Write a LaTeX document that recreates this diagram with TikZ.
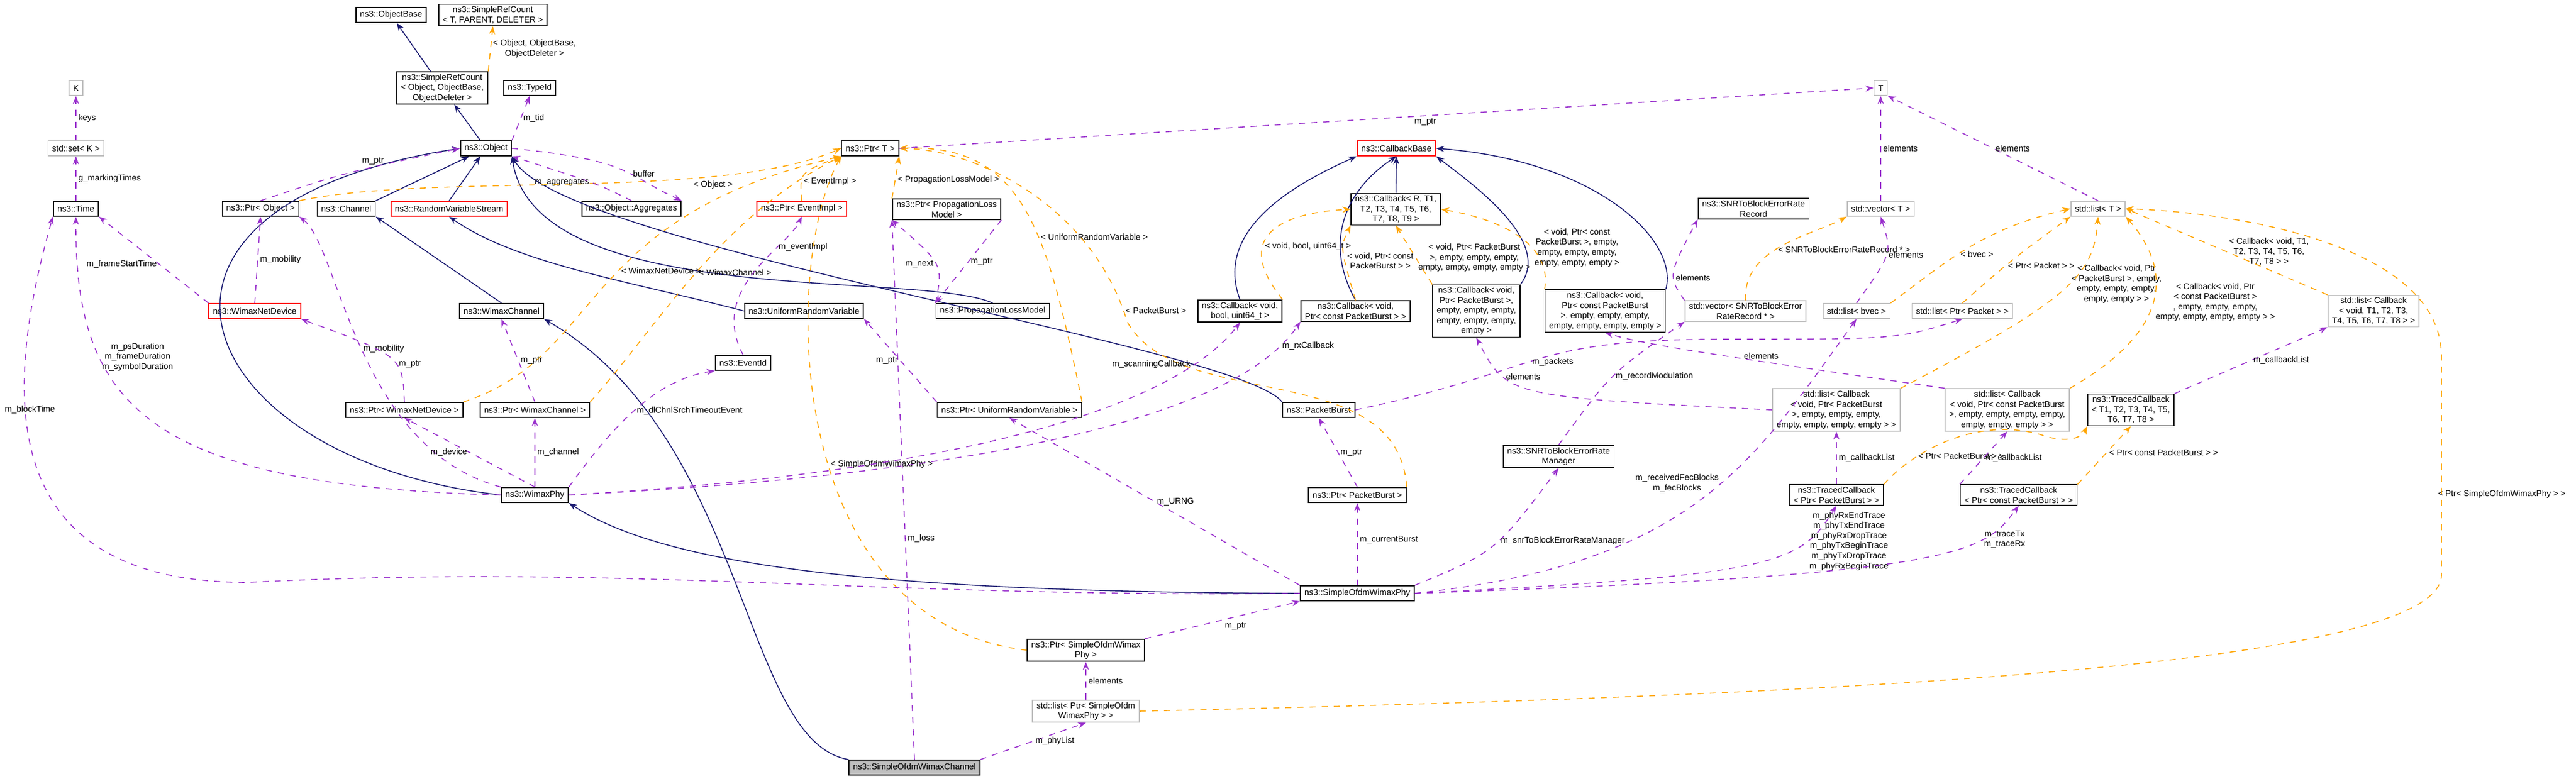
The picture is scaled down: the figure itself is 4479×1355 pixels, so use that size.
\documentclass[tikz,border=0pt]{standalone}
\usepackage{fontspec}
\setmainfont{Liberation Sans}
\usetikzlibrary{arrows.meta}

\definecolor{inhcol}{HTML}{191970}
\definecolor{usecol}{HTML}{9A32CD}
\definecolor{tplcol}{HTML}{FFA500}

\tikzset{
  cls/.style={draw=black, line width=0.5pt, fill=white, inner xsep=2pt, inner ysep=1pt,
    minimum height=0.26cm, align=center, font=\fontsize{4.2}{5}\selectfont},
  clsred/.style={cls, draw=red},
  clsgray/.style={cls, draw=black!25},
  clsme/.style={cls, fill=black!25},
  inh/.style={draw=inhcol, line width=0.45pt, -{Stealth[length=4pt,width=3pt]}},
  use/.style={draw=usecol, line width=0.45pt, dashed, -{Stealth[length=4pt,width=3pt]}},
  tpl/.style={draw=tplcol, line width=0.45pt, dashed, -{Stealth[length=4pt,width=3pt]}},
  lbl/.style={font=\fontsize{4.2}{5}\selectfont, align=center, inner sep=1pt, fill=none}
}

\begin{document}
\begin{tikzpicture}[x=0.01cm, y=-0.01cm]
  \useasboundingbox (0,0) rectangle (4479,1355);

  % classes
  \node[cls] (objbase) at (680,26) {ns3::ObjectBase};
  \node[cls] (srcT) at (857,26) {ns3::SimpleRefCount\\< T, PARENT, DELETER >};
  \node[cls] (srcobj) at (769,153) {ns3::SimpleRefCount\\< Object, ObjectBase,\\ObjectDeleter >};
  \node[cls] (typeid) at (921,153) {ns3::TypeId};
  \node[clsgray] (key) at (132,153) {K};
  \node[clsgray] (setk) at (132,258) {std::set< K >};
  \node[cls] (object) at (845,258) {ns3::Object};
  \node[cls] (ptrT) at (1513,258) {ns3::Ptr< T >};
  \node[clsred] (cbbase) at (2428,258) {ns3::CallbackBase};
  \node[clsgray] (tT) at (3270,153) {T};

  \node[cls] (time) at (132,363) {ns3::Time};
  \node[cls] (ptrobj) at (453,363) {ns3::Ptr< Object >};
  \node[cls] (channel) at (602,363) {ns3::Channel};
  \node[clsred] (rvs) at (781,363) {ns3::RandomVariableStream};
  \node[cls] (aggr) at (1098,363) {ns3::Object::Aggregates};
  \node[clsred] (ptrevent) at (1394,363) {ns3::Ptr< EventImpl >};
  \node[cls] (ptrplm) at (1646,364) {ns3::Ptr< PropagationLoss\\Model >};
  \node[cls] (cbR) at (2427,364) {ns3::Callback< R, T1,\\T2, T3, T4, T5, T6,\\T7, T8, T9 >};
  \node[cls] (snrrec) at (3049,363) {ns3::SNRToBlockErrorRate\\Record};
  \node[clsgray] (vecT) at (3270,363) {std::vector< T >};
  \node[clsgray] (listT) at (3648,363) {std::list< T >};

  \node[clsred] (wnd) at (443,541) {ns3::WimaxNetDevice};
  \node[cls] (wch) at (872,541) {ns3::WimaxChannel};
  \node[cls] (urv) at (1398,541) {ns3::UniformRandomVariable};
  \node[cls] (plm) at (1726,541) {ns3::PropagationLossModel};
  \node[cls] (cbbool) at (2156,541) {ns3::Callback< void,\\bool, uint64\_t >};
  \node[cls] (cbcpb) at (2357,541) {ns3::Callback< void,\\Ptr< const PacketBurst > >};
  \node[cls] (cbpbe) at (2567,541) {ns3::Callback< void,\\Ptr< PacketBurst >,\\empty, empty, empty,\\empty, empty, empty,\\empty >};
  \node[cls] (cbcpbe) at (2791,541) {ns3::Callback< void,\\Ptr< const PacketBurst\\>, empty, empty, empty,\\empty, empty, empty, empty >};
  \node[clsgray] (vecsnr) at (3035,541) {std::vector< SNRToBlockError\\RateRecord * >};
  \node[clsgray] (listbvec) at (3228,541) {std::list< bvec >};
  \node[clsgray] (listpkt) at (3412,541) {std::list< Ptr< Packet > >};
  \node[clsgray] (listcbT) at (4127,541) {std::list< Callback\\< void, T1, T2, T3,\\T4, T5, T6, T7, T8 > >};

  \node[cls] (eventid) at (1292,631) {ns3::EventId};
  \node[cls] (ptrwnd) at (703,713) {ns3::Ptr< WimaxNetDevice >};
  \node[cls] (ptrwch) at (930,713) {ns3::Ptr< WimaxChannel >};
  \node[cls] (ptrurv) at (1755,713) {ns3::Ptr< UniformRandomVariable >};
  \node[cls] (pb) at (2293,713) {ns3::PacketBurst};
  \node[clsgray] (listcbpb) at (3193,713) {std::list< Callback\\< void, Ptr< PacketBurst\\>, empty, empty, empty,\\empty, empty, empty, empty > >};
  \node[clsgray] (listcbcpb) at (3490,713) {std::list< Callback\\< void, Ptr< const PacketBurst\\>, empty, empty, empty, empty,\\empty, empty, empty > >};
  \node[cls] (tcT) at (3705,713) {ns3::TracedCallback\\< T1, T2, T3, T4, T5,\\T6, T7, T8 >};

  \node[cls] (snrmgr) at (2710,794) {ns3::SNRToBlockErrorRate\\Manager};
  \node[cls] (wphy) at (930,861) {ns3::WimaxPhy};
  \node[cls] (ptrpb) at (2360,861) {ns3::Ptr< PacketBurst >};
  \node[cls] (tcpb) at (3193,861) {ns3::TracedCallback\\< Ptr< PacketBurst > >};
  \node[cls] (tccpb) at (3510,861) {ns3::TracedCallback\\< Ptr< const PacketBurst > >};

  \node[cls] (sowp) at (2360,1032) {ns3::SimpleOfdmWimaxPhy};
  \node[cls] (ptrsowp) at (1888,1131) {ns3::Ptr< SimpleOfdmWimax\\Phy >};
  \node[clsgray] (listsowp) at (1888,1237) {std::list< Ptr< SimpleOfdm\\WimaxPhy > >};
  \node[clsme] (sowc) at (1590,1335) {ns3::SimpleOfdmWimaxChannel};

  % inheritance
  \draw[inh] (srcobj) -- (objbase);
  \draw[inh] (object) -- (srcobj);
  \draw[inh] (channel.north east) -- (object);
  \draw[inh] (rvs.north) -- (object);
  \draw[inh] (wch.north) -- (channel.south east);
  \draw[inh] (urv.west) .. controls (1100,490) and (900,460) .. (rvs.south);
  \draw[inh] (wphy.west) .. controls (330,800) and (150,360) .. (object.west);
  \draw[inh] (plm.north) .. controls (1600,470) and (930,540) .. (object.south east);
  \draw[inh] (pb.north west) .. controls (2150,600) and (980,430) .. (object.south east);
  \draw[inh] (sowc.north west) .. controls (1290,1290) and (1300,760) .. (wch.south east);
  \draw[inh] (sowp.west) .. controls (1500,1030) and (1150,980) .. (wphy.south east);
  \draw[inh] (cbR) -- (cbbase);
  \draw[inh] (cbbool.north) .. controls (2110,400) and (2250,320) .. (cbbase.south west);
  \draw[inh] (cbcpb.north) .. controls (2300,420) and (2340,330) .. (cbbase.south);
  \draw[inh] (cbpbe.north east) .. controls (2700,420) and (2560,320) .. (cbbase.south east);
  \draw[inh] (cbcpbe.north east) .. controls (2920,420) and (2780,280) .. (cbbase.east);

  % templates
  \draw[tpl] (srcobj.north east) -- node[lbl, right, pos=0.5] {< Object, ObjectBase,\\ObjectDeleter >} (srcT.south);
  \draw[tpl] (ptrobj.north east) .. controls (750,300) and (1250,350) .. (ptrT.west);
  \node[lbl] (lobj) at (1240,322) {< Object >};
  \draw[tpl] (ptrevent.north) .. controls (1390,300) .. node[lbl, pos=0.3, right] {< EventImpl >} (ptrT.south west);
  \draw[tpl] (ptrplm.north west) -- node[lbl, right, pos=0.45] {< PropagationLossModel >} (ptrT.south east);
  \draw[tpl] (ptrwnd.north east) .. controls (1050,620) and (1000,380) .. node[lbl, pos=0.55, right] {< WimaxNetDevice >} (ptrT.south west);
  \draw[tpl] (ptrwch.north east) .. controls (1150,560) and (1250,380) .. node[lbl, pos=0.5, right] {< WimaxChannel >} (ptrT.south west);
  \draw[tpl] (ptrurv.north east) .. controls (1820,400) and (1780,250) .. node[lbl, pos=0.4, right] {< UniformRandomVariable >} (ptrT.east);
  \draw[tpl] (ptrpb.north east) .. controls (2430,620) and (2050,720) .. (1960,560) .. controls (1900,360) and (1700,260) .. (ptrT.east);
  \node[lbl] (lpb) at (2010,540) {< PacketBurst >};
  \draw[tpl] (ptrsowp.west) .. controls (1360,1080) and (1360,460) .. node[lbl, pos=0.45, right] {< SimpleOfdmWimaxPhy >} (ptrT.south west);
  \draw[tpl] (cbbool.north east) .. controls (2140,410) and (2230,370) .. node[lbl, pos=0.35, right] {< void, bool, uint64\_t >} (cbR.west);
  \draw[tpl] (cbcpb.north) .. controls (2330,430) .. node[lbl, pos=0.35, right] {< void, Ptr< const\\PacketBurst > >} (cbR.south west);
  \draw[tpl] (cbpbe.north west) -- node[lbl, pos=0.45, right] {< void, Ptr< PacketBurst\\>, empty, empty, empty,\\empty, empty, empty, empty >} (cbR.south);
  \draw[tpl] (cbcpbe.north west) .. controls (2700,420) and (2600,380) .. node[lbl, pos=0.35, right] {< void, Ptr< const\\PacketBurst >, empty,\\empty, empty, empty,\\empty, empty, empty >} (cbR.east);
  \draw[tpl] (vecsnr.north) .. controls (3030,430) and (3150,410) .. node[lbl, pos=0.45, right] {< SNRToBlockErrorRateRecord * >} (vecT.south west);
  \draw[tpl] (listbvec.north east) .. controls (3380,460) and (3440,400) .. node[lbl, pos=0.45, right] {< bvec >} (listT.west);
  \draw[tpl] (listpkt.north) .. controls (3500,450) .. node[lbl, pos=0.4, right] {< Ptr< Packet > >} (listT.south west);
  \draw[tpl] (listcbpb.north east) .. controls (3600,520) and (3640,480) .. node[lbl, pos=0.55, right] {< Callback< void, Ptr\\< PacketBurst >, empty,\\empty, empty, empty,\\empty, empty > >} (listT.south);
  \draw[tpl] (listcbcpb.north east) .. controls (3800,560) and (3760,450) .. node[lbl, pos=0.45, right] {< Callback< void, Ptr\\< const PacketBurst >\\, empty, empty, empty,\\empty, empty, empty, empty > >} (listT.south east);
  \draw[tpl] (listcbT.north west) -- node[lbl, pos=0.5, right] {< Callback< void, T1,\\T2, T3, T4, T5, T6,\\T7, T8 > >} (listT.east);
  \draw[tpl] (tcpb.north east) .. controls (3330,780) and (3450,720) .. (3560,760) .. controls (3600,770) and (3620,760) .. (tcT.south west);
  \node[lbl] (ltcpb) at (3410,793) {< Ptr< PacketBurst > >};
  \draw[tpl] (tccpb.north east) -- node[lbl, pos=0.55, right] {< Ptr< const PacketBurst > >} (tcT.south);
  \draw[tpl] (listsowp.east) .. controls (3200,1210) and (4245,1160) .. (4245,1000) -- (4245,620) .. controls (4245,430) and (3900,370) .. (listT.east);
  \node[lbl] (lsowp) at (4350,860) {< Ptr< SimpleOfdmWimaxPhy > >};

  % usage
  \draw[use] (object.north east) -- node[lbl, right, pos=0.5] {m\_tid} (typeid.south);
  \draw[use] (setk) -- node[lbl, right] {keys} (key);
  \draw[use] (time) -- node[lbl, right] {g\_markingTimes} (setk);
  \draw[use] (ptrobj.north) .. controls (600,300) .. node[lbl, pos=0.65, above] {m\_ptr} (object.west);
  \draw[use] (object.east) .. controls (1100,280) and (1080,300) .. node[lbl, pos=0.6, right] {buffer} (aggr.north east);
  \draw[use] (aggr.north) .. controls (1040,320) .. node[lbl, pos=0.5, left] {m\_aggregates} (object.south east);
  \draw[use] (wnd.north west) -- node[lbl, pos=0.45, left] {m\_frameStartTime} (time.south east);
  \draw[use] (wnd.north) -- node[lbl, right] {m\_mobility} (ptrobj.south);
  \draw[use] (wphy.north west) .. controls (620,780) and (590,430) .. node[lbl, pos=0.5, right] {m\_mobility} (ptrobj.south east);
  \draw[use] (wphy.west) .. controls (250,845) and (130,700) .. node[lbl, pos=0.7, right] {m\_psDuration\\m\_frameDuration\\m\_symbolDuration} (time.south);
  \draw[use] (sowp.west) .. controls (1500,1040) and (1100,980) .. (430,1013) .. controls (0,1013) and (0,700) .. (time.south west);
  \node[lbl] (lblock) at (52,713) {m\_blockTime};
  \draw[use] (ptrwnd.north) .. controls (700,620) .. node[lbl, pos=0.4, right] {m\_ptr} (wnd.south east);
  \draw[use] (ptrwch.north) -- node[lbl, pos=0.5, right] {m\_ptr} (wch.south);
  \draw[use] (wphy.north) -- node[lbl, pos=0.5, left] {m\_device} (ptrwnd.south);
  \draw[use] (wphy) -- node[lbl, pos=0.5, right] {m\_channel} (ptrwch);
  \draw[use] (wphy.north east) .. controls (1080,720) and (1150,660) .. node[lbl, pos=0.45, right] {m\_dlChnlSrchTimeoutEvent} (eventid.south west);
  \draw[use] (eventid.north) .. controls (1230,500) and (1370,430) .. node[lbl, pos=0.7, right] {m\_eventImpl} (ptrevent.south);
  \draw[use] (wphy.east) .. controls (1700,820) and (2050,700) .. node[lbl, pos=0.82, left] {m\_scanningCallback} (cbbool.south);
  \draw[use] (wphy.east) .. controls (2000,810) and (2200,650) .. node[lbl, pos=0.86, right] {m\_rxCallback} (cbcpb.south west);
  \draw[use] (plm.north west) .. controls (1640,460) .. node[lbl, pos=0.5, left] {m\_next} (ptrplm.south west);
  \draw[use] (ptrplm.south east) -- node[lbl, pos=0.5, right] {m\_ptr} (plm.north west);
  \draw[use] (sowc.north) -- node[lbl, pos=0.41, right] {m\_loss} (ptrplm.south west);
  \draw[use] (ptrurv.north west) -- node[lbl, pos=0.5, left] {m\_ptr} (urv.south east);
  \draw[use] (sowp.north west) -- node[lbl, pos=0.5, right] {m\_URNG} (ptrurv.south);
  \draw[use] (ptrpb.north) -- node[lbl, pos=0.5, right] {m\_ptr} (pb.south);
  \draw[use] (sowp.north) -- node[lbl, pos=0.55, right] {m\_currentBurst} (ptrpb.south);
  \draw[use] (pb.east) .. controls (2700,640) and (2650,590) .. (3000,590) .. controls (3300,590) .. (listpkt.south);
  \node[lbl] (lpkts) at (2700,630) {m\_packets};
  \draw[use] (listcbpb.west) .. controls (2620,690) .. node[lbl, pos=0.7, right] {elements} (cbpbe.south);
  \draw[use] (listcbcpb.north west) .. controls (3000,620) and (2860,600) .. node[lbl, pos=0.35, above] {elements} (cbcpbe.south);
  \draw[use] (vecsnr.north west) .. controls (2900,480) .. node[lbl, pos=0.4, right] {elements} (snrrec.south west);
  \draw[use] (snrmgr.north) .. controls (2800,650) .. node[lbl, pos=0.5, right] {m\_recordModulation} (vecsnr.south west);
  \draw[use] (sowp.north east) .. controls (2600,960) .. node[lbl, pos=0.55, right] {m\_snrToBlockErrorRateManager} (snrmgr.south);
  \draw[use] (listbvec.north) .. controls (3290,440) .. node[lbl, pos=0.5, right] {elements} (vecT.south);
  \draw[use] (sowp.east) .. controls (2950,980) and (3050,800) .. node[lbl, pos=0.55, left] {m\_receivedFecBlocks\\m\_fecBlocks} (listbvec.south);
  \draw[use] (tcpb.north) -- node[lbl, pos=0.5, right] {m\_callbackList} (listcbpb.south);
  \draw[use] (tccpb.north west) -- node[lbl, pos=0.5, right] {m\_callbackList} (listcbcpb.south);
  \draw[use] (tcT.north east) -- node[lbl, pos=0.5, right] {m\_callbackList} (listcbT.south west);
  \draw[use] (sowp.east) .. controls (3100,1000) and (3130,980) .. node[lbl, pos=0.75, right] {m\_phyRxEndTrace\\m\_phyTxEndTrace\\m\_phyRxDropTrace\\m\_phyTxBeginTrace\\m\_phyTxDropTrace\\m\_phyRxBeginTrace} (tcpb.south);
  \draw[use] (sowp.east) .. controls (3420,1000) and (3450,960) .. node[lbl, pos=0.72, right] {m\_traceTx\\m\_traceRx} (tccpb.south);
  \draw[use] (ptrsowp.north east) -- node[lbl, pos=0.5, below right] {m\_ptr} (sowp.south west);
  \draw[use] (listsowp) -- node[lbl, right] {elements} (ptrsowp);
  \draw[use] (sowc.north east) -- node[lbl, pos=0.5, right] {m\_phyList} (listsowp.south);
  \draw[use] (ptrT.east) -- node[lbl, pos=0.54, below] {m\_ptr} (tT.west);
  \draw[use] (vecT) -- node[lbl, pos=0.5, right] {elements} (tT);
  \draw[use] (listT.north) -- node[lbl, pos=0.5, right] {elements} (tT.south east);
\end{tikzpicture}
\end{document}
